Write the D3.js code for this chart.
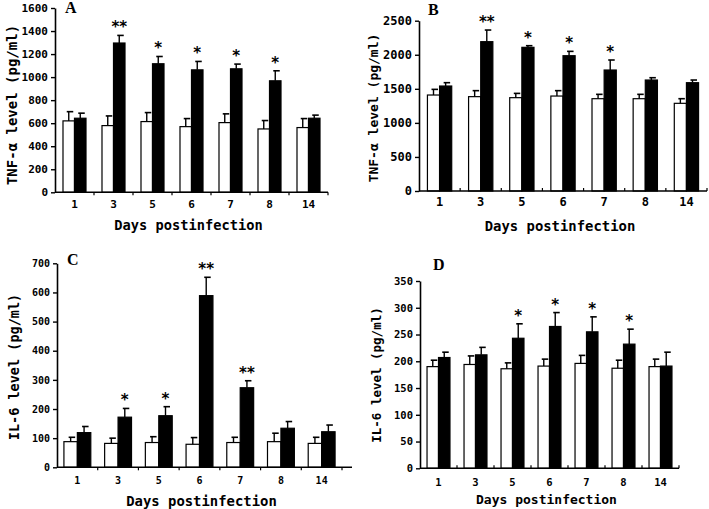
<!DOCTYPE html>
<html>
<head>
<meta charset="utf-8">
<script src="https://cdn.jsdelivr.net/npm/d3@7"></script>
<style>
  body { margin: 0; background: #fff; }
  svg { display: block; }
  text { fill: #000; }
</style>
</head>
<body>
<div id="chart"></div>
<script>
// categories
var days = ["1", "3", "5", "6", "7", "8", "14"];

// A: TNF-alpha (first assay)
var aControl = [620, 579, 614, 570, 605, 550, 562];
var aControlErr = [80, 84, 78, 70, 76, 73, 78];
var aInfected = [643, 1296, 1116, 1063, 1072, 968, 643];
var aInfectedErr = [44, 66, 63, 73, 41, 87, 27];
var aSig = ["", "**", "*", "*", "*", "*", ""];
var aTicks = [0, 200, 400, 600, 800, 1000, 1200, 1400, 1600];

// B: TNF-alpha (second assay)
var bControl = [1409, 1385, 1370, 1394, 1355, 1355, 1287];
var bControlErr = [83, 88, 63, 79, 64, 64, 68];
var bInfected = [1541, 2192, 2109, 1986, 1776, 1629, 1590];
var bInfectedErr = [49, 171, 24, 64, 147, 34, 39];
var bSig = ["", "**", "*", "*", "*", "", ""];
var bTicks = [0, 500, 1000, 1500, 2000, 2500];

// C: IL-6 (first assay)
var cControl = [88, 82, 85, 79, 85, 88, 82];
var cControlErr = [15, 18, 20, 23, 18, 29, 21];
var cInfected = [119, 172, 177, 589, 273, 134, 122];
var cInfectedErr = [21, 30, 31, 63, 24, 23, 23];
var cSig = ["", "*", "*", "**", "**", "", ""];
var cTicks = [0, 100, 200, 300, 400, 500, 600, 700];

// D: IL-6 (second assay)
var dControl = [190, 194, 186, 191, 196, 187, 190];
var dControlErr = [12, 16, 11, 13, 15, 15, 14];
var dInfected = [207, 212, 243, 265, 255, 232, 191];
var dInfectedErr = [10, 14, 27, 26, 28, 28, 26];
var dSig = ["", "", "*", "*", "*", "*", ""];
var dTicks = [0, 50, 100, 150, 200, 250, 300, 350];

var mono = "'DejaVu Sans Mono', monospace";

var svg = d3.select("#chart")
  .append("svg")
  .attr("width", 709)
  .attr("height", 509);

var panels = [
  {letter: "A", control: aControl, controlErr: aControlErr, infected: aInfected, infectedErr: aInfectedErr,
   sig: aSig, ticks: aTicks, yTitle: "TNF-\u03b1 level (pg/ml)",
   x0: 55, x1: 328, axisEnd: 328, yZero: 192.3, yTop: 8, pad: 0.41, tickDir: 1,
   tickFont: 11, yTitleFont: 14, xTitleFont: 13.7, yTitleX: 12, yTitleY: 105,
   xLabelY: 208, xTitleY: 230, letterX: 65, letterY: 13},
  {letter: "B", control: bControl, controlErr: bControlErr, infected: bInfected, infectedErr: bInfectedErr,
   sig: bSig, ticks: bTicks, yTitle: "TNF-\u03b1 level (pg/ml)",
   x0: 419, x1: 707, axisEnd: 707, yZero: 191, yTop: 20.7, pad: 0.41, tickDir: -1,
   tickFont: 12, yTitleFont: 13, xTitleFont: 13.9, yTitleX: 373, yTitleY: 108,
   xLabelY: 206, xTitleY: 231, letterX: 428, letterY: 15},
  {letter: "C", control: cControl, controlErr: cControlErr, infected: cInfected, infectedErr: cInfectedErr,
   sig: cSig, ticks: cTicks, yTitle: "IL-6 level (pg/ml)",
   x0: 57, x1: 342, axisEnd: 352, yZero: 467.3, yTop: 263.3, pad: 0.34, tickDir: 1,
   tickFont: 10, yTitleFont: 13.5, xTitleFont: 13.9, yTitleX: 14, yTitleY: 367,
   xLabelY: 484, xTitleY: 506, letterX: 67, letterY: 265},
  {letter: "D", control: dControl, controlErr: dControlErr, infected: dInfected, infectedErr: dInfectedErr,
   sig: dSig, ticks: dTicks, yTitle: "IL-6 level (pg/ml)",
   x0: 420, x1: 679, axisEnd: 679, yZero: 468.3, yTop: 281, pad: 0.38, tickDir: -1,
   tickFont: 10.5, yTitleFont: 12.5, xTitleFont: 13, yTitleX: 377, yTitleY: 375,
   xLabelY: 486, xTitleY: 504, letterX: 433, letterY: 270}
];

panels.forEach(drawPanel);

function drawPanel(p) {
  var g = svg.append("g");
  var yMax = p.ticks[p.ticks.length - 1];

  var x = d3.scaleBand()
    .domain(days)
    .range([p.x0, p.x1])
    .paddingInner(p.pad)
    .paddingOuter(p.pad / 2);

  var xSub = d3.scaleBand()
    .domain(["control", "infected"])
    .range([0, x.bandwidth()]);

  var y = d3.scaleLinear()
    .domain([0, yMax])
    .range([p.yZero, p.yTop]);

  var rows = days.map(function(d, i) {
    return [
      {day: d, key: "control", v: p.control[i], e: p.controlErr[i], sig: ""},
      {day: d, key: "infected", v: p.infected[i], e: p.infectedErr[i], sig: p.sig[i]}
    ];
  });
  var flat = d3.merge(rows);

  // bars
  g.selectAll("rect.bar")
    .data(flat)
    .enter()
    .append("rect")
    .attr("class", "bar")
    .attr("x", d => x(d.day) + xSub(d.key))
    .attr("y", d => y(d.v))
    .attr("width", xSub.bandwidth())
    .attr("height", d => y(0) - y(d.v))
    .attr("fill", d => d.key == "control" ? "#fff" : "#000")
    .attr("stroke", "#000")
    .attr("stroke-width", 1.2);

  // error bars
  var cx = d => x(d.day) + xSub(d.key) + xSub.bandwidth() / 2;
  g.selectAll("line.err")
    .data(flat)
    .enter()
    .append("line")
    .attr("x1", cx)
    .attr("x2", cx)
    .attr("y1", d => y(d.v))
    .attr("y2", d => y(d.v + d.e))
    .attr("stroke", "#000")
    .attr("stroke-width", 1.4);

  g.selectAll("line.cap")
    .data(flat)
    .enter()
    .append("line")
    .attr("x1", d => cx(d) - 2)
    .attr("x2", d => cx(d) + 4.5)
    .attr("y1", d => y(d.v + d.e))
    .attr("y2", d => y(d.v + d.e))
    .attr("stroke", "#000")
    .attr("stroke-width", 1.6);

  // significance marks
  g.selectAll("text.sig")
    .data(flat.filter(d => d.sig))
    .enter()
    .append("text")
    .attr("x", cx)
    .attr("y", d => y(d.v + d.e) - 3)
    .attr("text-anchor", "middle")
    .attr("font-family", "'DejaVu Sans', sans-serif")
    .attr("font-weight", "bold")
    .attr("font-size", 15)
    .text(d => d.sig);

  // y axis
  var yAxis = g.append("g")
    .attr("transform", `translate(${p.x0}, 0)`)
    .call(d3.axisLeft(y).tickValues(p.ticks).tickFormat(d3.format("d")).tickSize(4).tickSizeOuter(0));
  yAxis.select(".domain").attr("stroke-width", 1.6);
  yAxis.selectAll(".tick line").attr("stroke-width", 1.4);
  yAxis.selectAll("text")
    .attr("font-family", mono)
    .attr("font-weight", "bold")
    .attr("font-size", p.tickFont)
    .attr("fill", "#000");

  // x axis line with small separators between groups
  g.append("line")
    .attr("x1", p.x0)
    .attr("x2", p.axisEnd)
    .attr("y1", p.yZero)
    .attr("y2", p.yZero)
    .attr("stroke", "#000")
    .attr("stroke-width", 1.6);

  g.selectAll("line.sep")
    .data(days.slice(1).concat(["end"]))
    .enter()
    .append("line")
    .attr("x1", (d, i) => p.x0 + x.step() * (i + 1))
    .attr("x2", (d, i) => p.x0 + x.step() * (i + 1))
    .attr("y1", p.yZero)
    .attr("y2", p.yZero + 3 * p.tickDir)
    .attr("stroke", "#000")
    .attr("stroke-width", 1.2);

  g.selectAll("text.xlab")
    .data(days)
    .enter()
    .append("text")
    .attr("x", d => x(d) + x.bandwidth() / 2)
    .attr("y", p.xLabelY)
    .attr("text-anchor", "middle")
    .attr("font-family", mono)
    .attr("font-weight", "bold")
    .attr("font-size", p.tickFont)
    .text(d => d);

  // axis titles
  g.append("text")
    .attr("x", (p.x0 + p.axisEnd) / 2 - 3)
    .attr("y", p.xTitleY)
    .attr("text-anchor", "middle")
    .attr("font-family", mono)
    .attr("font-weight", "bold")
    .attr("font-size", p.xTitleFont)
    .text("Days postinfection");

  g.append("text")
    .attr("transform", `translate(${p.yTitleX}, ${p.yTitleY}) rotate(-90)`)
    .attr("text-anchor", "middle")
    .attr("dy", "0.35em")
    .attr("font-family", mono)
    .attr("font-weight", "bold")
    .attr("font-size", p.yTitleFont)
    .text(p.yTitle);

  // panel letter
  g.append("text")
    .attr("x", p.letterX)
    .attr("y", p.letterY)
    .attr("font-family", "'Liberation Serif', serif")
    .attr("font-weight", "bold")
    .attr("font-size", 16)
    .text(p.letter);
}
</script>
</body>
</html>
